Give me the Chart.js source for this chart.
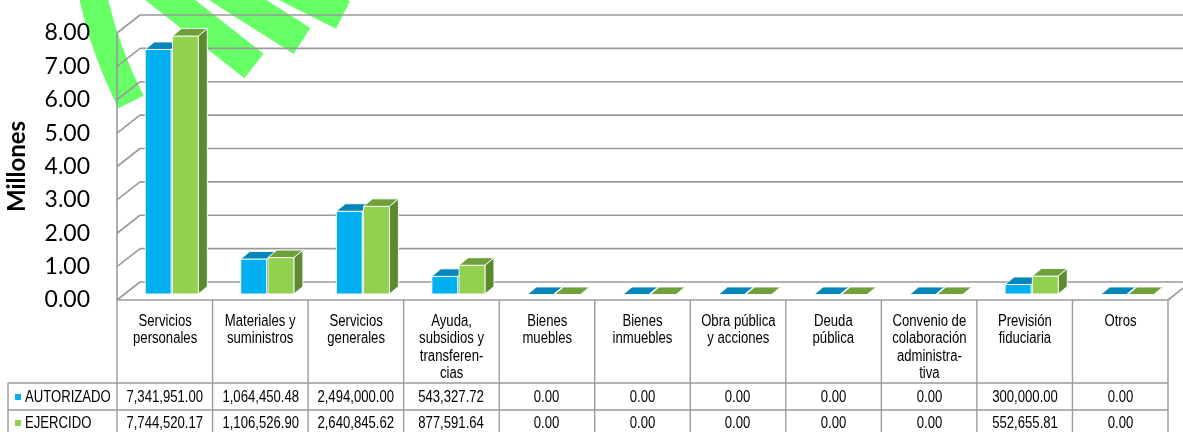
<!DOCTYPE html>
<html>
<head>
<meta charset="utf-8">
<script src="https://cdn.jsdelivr.net/npm/chart.js@4.4.0/dist/chart.umd.min.js"></script>
<style>
html,body{margin:0;padding:0;background:#fff;}
#wrap{position:relative;width:1183px;height:432px;overflow:hidden;background:#fff;}
#c{position:absolute;left:0;top:0;}
.cell{position:absolute;box-sizing:border-box;text-align:center;color:#000;
  font-family:"Liberation Sans",Arial,sans-serif;font-size:16px;white-space:nowrap;}
.cell span.t{display:inline-block;transform:scaleX(0.82);transform-origin:50% 50%;}
.hdr{line-height:17.3px;padding-top:11px;}
.lab{text-align:left;padding-left:17px;}
.lab span.t{transform-origin:0 50%;}
.mk{position:absolute;left:7px;width:6px;height:6px;}
</style>
</head>
<body>
<div id="wrap"><canvas id="c" width="1183" height="432"></canvas></div>
<script>
// ---- data ----
const categories = [
  ["Servicios","personales"],
  ["Materiales y","suministros"],
  ["Servicios","generales"],
  ["Ayuda,","subsidios y","transferen-","cias"],
  ["Bienes","muebles"],
  ["Bienes","inmuebles"],
  ["Obra pública","y acciones"],
  ["Deuda","pública"],
  ["Convenio de","colaboración","administra-","tiva"],
  ["Previsión","fiduciaria"],
  ["Otros"]
];
const seriesNames = ["AUTORIZADO","EJERCIDO"];
const autorizado = [7341951.00,1064450.48,2494000.00,543327.72,0.00,0.00,0.00,0.00,0.00,300000.00,0.00];
const ejercido   = [7744520.17,1106526.90,2640845.62,877591.64,0.00,0.00,0.00,0.00,0.00,552655.81,0.00];
const yMin = 0, yMax = 8, yStep = 1;
const axisTitle = "Millones";

// ---- styles ----
const colors = {
  front: ["#00B0F0","#92D050"],
  top:   ["#0787B9","#6FA13B"],
  side:  ["#0A6E98","#5C8A2F"]
};
const grid = "#9a9a9a";
const WD = {x:23, y:18};      // wall depth
const BO = {x:7, y:5.5};      // bar depth offset
const BD = {x:9, y:7.5};      // bar depth
const AREA = {top:33, bottom:300};

function seg(ctx,x1,y1,x2,y2){ctx.beginPath();ctx.moveTo(x1,y1);ctx.lineTo(x2,y2);ctx.stroke();}
function poly(ctx,pts,fill){ctx.beginPath();ctx.moveTo(pts[0][0],pts[0][1]);for(let i=1;i<pts.length;i++)ctx.lineTo(pts[i][0],pts[i][1]);ctx.closePath();ctx.fillStyle=fill;ctx.fill();ctx.stroke();}

const threeD = {
  id:'threeD',
  beforeDraw(chart){
    const ctx = chart.ctx;
    ctx.save();
    ctx.strokeStyle = '#66FF66';
    ctx.lineCap = 'butt';
    ctx.lineWidth = 28;
    ctx.beginPath(); ctx.moveTo(90,-20); ctx.quadraticCurveTo(100,40,131,102); ctx.stroke();
    ctx.lineWidth = 31;
    seg(ctx,122,-38,254,66);
    seg(ctx,178,-38,302,41);
    seg(ctx,238,-38,343,15);
    ctx.restore();
  },
  beforeDatasetsDraw(chart){
    const {ctx, chartArea:a, scales:{y}} = chart;
    ctx.save();
    ctx.strokeStyle = grid; ctx.lineWidth = 1.6;
    y.ticks.forEach(t=>{
      const py = y.getPixelForValue(t.value);
      seg(ctx, a.left, py, a.left+WD.x, py-WD.y);
      seg(ctx, a.left+WD.x, py-WD.y, chart.width+5, py-WD.y);
    });
    seg(ctx, a.left, y.getPixelForValue(yMax), a.left, y.getPixelForValue(yMin));
    seg(ctx, a.left, a.bottom, a.right, a.bottom);
    seg(ctx, a.right, a.bottom, a.right+WD.x, a.bottom-WD.y);
    ctx.restore();
  },
  afterDatasetsDraw(chart){
    const ctx = chart.ctx;
    ctx.save();
    ctx.strokeStyle = 'rgba(255,255,255,0.9)'; ctx.lineWidth = 1;
    ctx.lineJoin = 'round';
    const n = chart.data.labels.length;
    for(let i=0;i<n;i++){
      for(let d=0; d<chart.data.datasets.length; d++){
        const el = chart.getDatasetMeta(d).data[i];
        const p = el.getProps(['x','y','base','width'], true);
        const l = p.x - p.width/2 + BO.x, r = p.x + p.width/2 + BO.x;
        const t = Math.min(p.y,p.base) - BO.y, b = p.base - BO.y;
        if (b - t > 0.5) {
          poly(ctx, [[r,t],[r+BD.x,t-BD.y],[r+BD.x,b-BD.y],[r,b]], colors.side[d]);
          poly(ctx, [[l,t],[r,t],[r,b],[l,b]], colors.front[d]);
        }
        poly(ctx, [[l,t],[r,t],[r+BD.x,t-BD.y],[l+BD.x,t-BD.y]], colors.top[d]);
      }
    }
    ctx.restore();
  },
  afterDraw(chart){
    const {ctx, chartArea:a, scales:{x}} = chart;
    const n = chart.data.labels.length;
    const cw = (a.right - a.left)/n;
    ctx.save();
    ctx.strokeStyle = grid; ctx.lineWidth = 1.4;
    const r1 = a.bottom + 83, r2 = r1 + 27;
    for(let i=0;i<=n;i++){
      const xx = (i<n ? x.getPixelForValue(i) - cw/2 : x.getPixelForValue(n-1) + cw/2);
      seg(ctx, xx, a.bottom, xx, chart.height+2);
    }
    seg(ctx, 8, r1, a.right, r1);
    seg(ctx, 8, r2, a.right, r2);
    seg(ctx, 8, r1, 8, chart.height+2);
    ctx.restore();
  }
};

const chart = new Chart(document.getElementById('c'), {
  type:'bar',
  data:{
    labels: categories.map(c=>c.join(' ')),
    datasets:[
      {label:seriesNames[0], data:autorizado.map(v=>v/1e6), backgroundColor:'rgba(0,0,0,0)', borderWidth:0, categoryPercentage:0.57, barPercentage:0.95},
      {label:seriesNames[1], data:ejercido.map(v=>v/1e6), backgroundColor:'rgba(0,0,0,0)', borderWidth:0, categoryPercentage:0.57, barPercentage:0.95}
    ]
  },
  options:{
    responsive:false, animation:false, devicePixelRatio:1,
    layout:{padding:{top:AREA.top,right:15,bottom:432-AREA.bottom,left:0}},
    plugins:{legend:{display:false}, tooltip:{enabled:false}},
    scales:{
      x:{display:false},
      y:{
        min:yMin, max:yMax,
        afterFit(s){ s.width = 117; },
        grid:{display:true, drawOnChartArea:false, drawTicks:true, tickLength:14, color:'rgba(0,0,0,0)'},
        border:{display:false},
        ticks:{stepSize:yStep, padding:13, color:'#000', font:{family:'Lato', size:23}, callback:v=>Number(v).toFixed(2)},
        title:{display:true, text:axisTitle, color:'#000', font:{family:'Lato', size:24, weight:'bold'}, padding:{top:3,bottom:0}}
      }
    }
  },
  plugins:[threeD]
});

// keep the value axis exactly on the wanted pixel span
for (let k=0;k<4;k++){
  const y = chart.scales.y;
  const dt = AREA.top - y.getPixelForValue(yMax);
  const db = y.getPixelForValue(yMin) - AREA.bottom;
  if (Math.abs(dt)<0.2 && Math.abs(db)<0.2) break;
  const p = chart.config.options.layout.padding;
  chart.config.options.layout.padding = {top:p.top+dt, right:p.right, bottom:p.bottom+db, left:p.left};
  chart.update();
}

// ---- data table (text) ----
(function(){
  const wrap = document.getElementById('wrap');
  const a = chart.chartArea, x = chart.scales.x;
  const n = categories.length;
  const cw = (a.right - a.left)/n;
  const bottom = chart.scales.y.getPixelForValue(yMin);
  const fmt = v => v.toLocaleString('en-US',{minimumFractionDigits:2, maximumFractionDigits:2});
  const top0 = bottom + 1, r1 = bottom + 83, r2 = r1 + 27;
  function cell(cls, left, top, w, h, html, lh){
    const d = document.createElement('div');
    d.className = 'cell ' + cls;
    d.style.left = left+'px'; d.style.top = top+'px'; d.style.width = w+'px'; d.style.height = h+'px';
    if (lh) d.style.lineHeight = lh+'px';
    d.innerHTML = '<span class="t">' + html + '</span>';
    wrap.appendChild(d);
    return d;
  }
  categories.forEach((c,i)=>{
    const l = x.getPixelForValue(i) - cw/2;
    cell('hdr', l, top0, cw, r1-top0, c.join('<br>'));
    cell('', l, r1, cw, 27, fmt(autorizado[i]), 27);
    cell('', l, r2, cw, 26, fmt(ejercido[i]), 26);
  });
  [[seriesNames[0], r1, 27, colors.front[0]],[seriesNames[1], r2, 26, colors.front[1]]].forEach(s=>{
    const d = cell('lab', 8, s[1], a.left-8, s[2], s[0], s[2]);
    const m = document.createElement('span');
    m.className = 'mk'; m.style.background = s[3]; m.style.top = (s[2]/2-3)+'px';
    d.appendChild(m);
  });
})();
</script>
</body>
</html>
